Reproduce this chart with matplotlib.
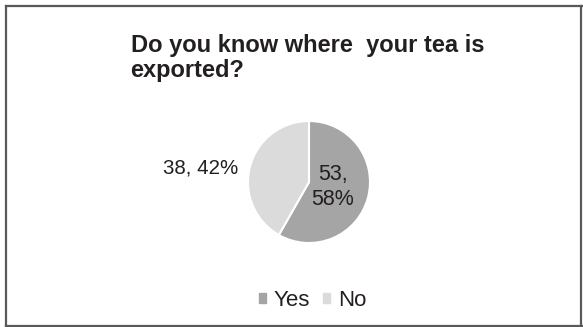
import matplotlib.pyplot as plt
from matplotlib.patches import Rectangle
from matplotlib.lines import Line2D

plt.rcParams['font.family'] = ['Liberation Sans', 'DejaVu Sans']

labels = ['Yes', 'No']
counts = [53, 38]
percents = [58, 42]
colors = ['#a5a5a5', '#dbdbdb']
text_color = '#231f20'

fig = plt.figure(figsize=(5.83, 3.27), dpi=100)

# frame around the chart area
frame = dict(color='#595959', linewidth=1.6, transform=fig.transFigure)
fig.lines.append(Line2D([0.011, 0.998], [0.983, 0.983], **frame))
fig.lines.append(Line2D([0.011, 0.011], [0.003, 0.983], **frame))
fig.lines.append(Line2D([0.011, 0.998], [0.004, 0.004], **frame))
fig.lines.append(Line2D([0.997, 0.997], [0.003, 0.983], **frame))

fig.text(0.224, 0.895, 'Do you know where  your tea is\nexported?', fontsize=17,
         fontweight='bold', color=text_color, ha='left', va='top', linespacing=1.1)

# axes in pixel units, origin bottom-left
ax = fig.add_axes([0.0, 0.0, 1.0, 1.0])
ax.axis('off')

wedges, _ = ax.pie(counts, colors=colors, startangle=90, counterclock=False,
                   center=(309, 145), radius=61,
                   wedgeprops=dict(edgecolor='white', linewidth=1.5))
ax.set_xlim(0, 583)
ax.set_ylim(0, 327)
ax.set_aspect('equal')

ax.text(333, 140, f'{counts[0]},\n{percents[0]}%', fontsize=15.5, color=text_color,
        ha='center', va='center', linespacing=1.25)
ax.text(201, 159, f'{counts[1]}, {percents[1]}%', fontsize=14.8, color=text_color,
        ha='center', va='center')

handles = [Rectangle((0, 0), 1, 1, color=c) for c in colors]
fig.legend(handles, labels, loc='center', bbox_to_anchor=(0.536, 0.08), ncol=2,
           frameon=False, fontsize=16, handlelength=0.32, handleheight=0.32,
           handletextpad=0.35, columnspacing=0.6, labelcolor=text_color)

fig.savefig('out.png', dpi=100)
